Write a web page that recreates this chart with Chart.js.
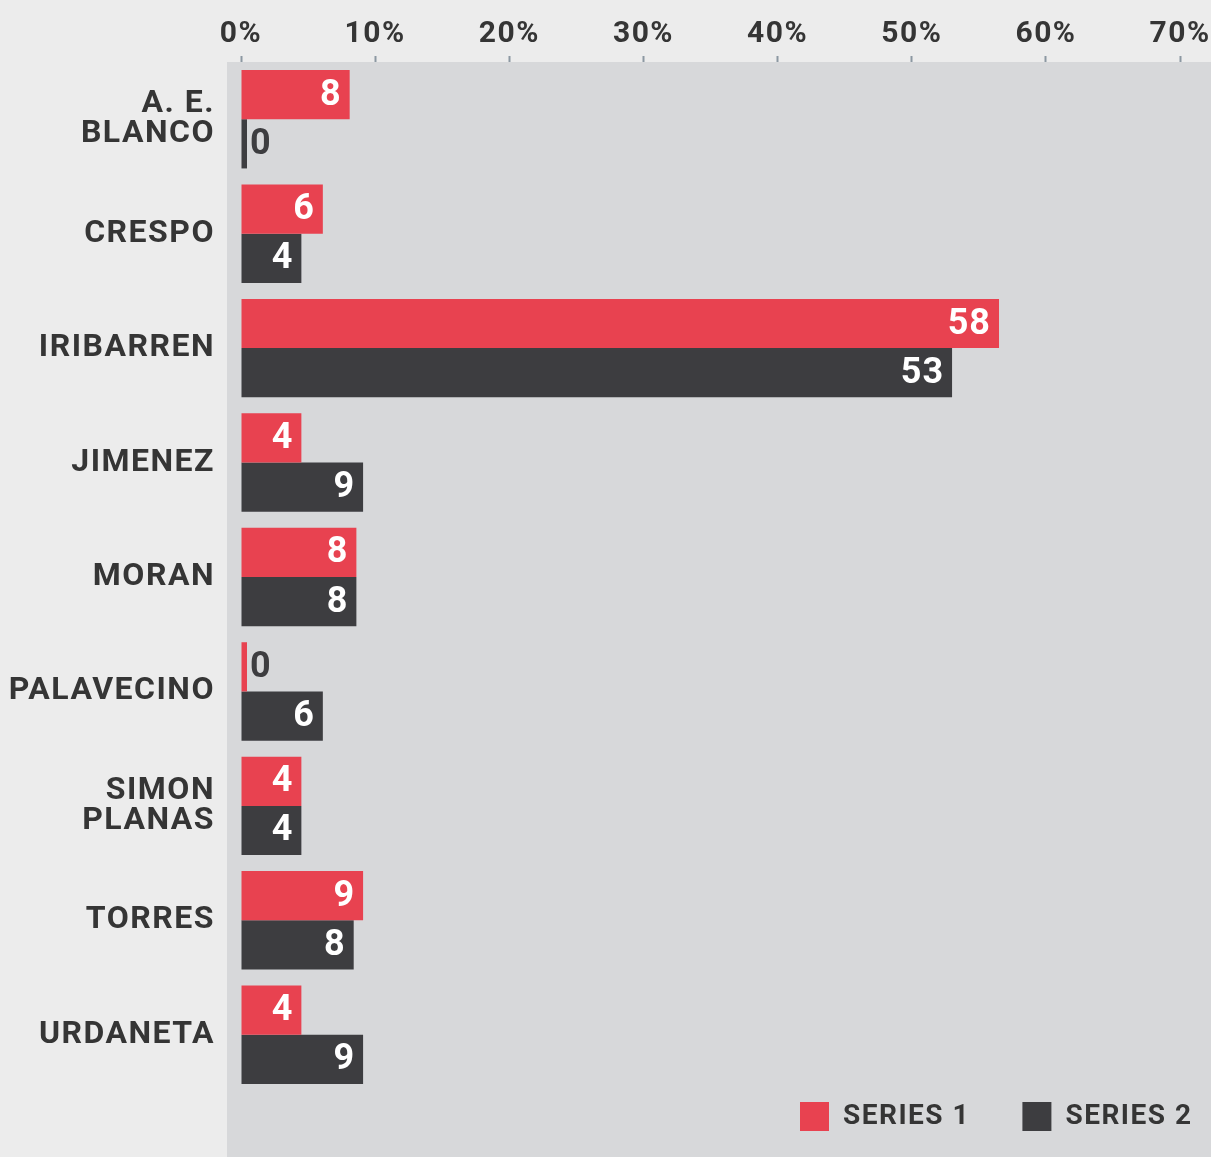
<!DOCTYPE html>
<html>
<head>
<meta charset="utf-8">
<script src="https://cdn.jsdelivr.net/npm/chart.js@4/dist/chart.umd.min.js"></script>
<style>
  html, body { margin: 0; padding: 0; background: #ececec; }
  #c { display: block; }
</style>
</head>
<body>
<canvas id="c" width="1211" height="1157"></canvas>
<script>
// ---- data ----
const categories = [["A. E.", "BLANCO"], "CRESPO", "IRIBARREN", "JIMENEZ", "MORAN", "PALAVECINO", ["SIMON", "PLANAS"], "TORRES", "URDANETA"];
const seriesNames = ["SERIES 1", "SERIES 2"];
const series1 = [8.1, 6.1, 56.5, 4.5, 8.6, 0, 4.5, 9.1, 4.5];
const series2 = [0, 4.5, 53.0, 9.1, 8.6, 6.1, 4.5, 8.4, 9.1];
const series1Labels = ["8", "6", "58", "4", "8", "0", "4", "9", "4"];
const series2Labels = ["0", "4", "53", "9", "8", "6", "4", "8", "9"];
const xTickValues = [0, 10, 20, 30, 40, 50, 60, 70];

const RED = "#e84250";
const DARK = "#3d3d40";
const TEXT = "#353535";
const PANEL = "#d7d8da";
const FONT = "Roboto, 'Open Sans', sans-serif";

const spacingPlugin = {
  id: "spacing",
  beforeUpdate(chart) { chart.ctx.letterSpacing = "1.5px"; },
  beforeDraw(chart) { chart.ctx.letterSpacing = "1.5px"; }
};

const panelPlugin = {
  id: "panel",
  beforeDraw(chart) {
    const { ctx, chartArea, width, height } = chart;
    ctx.save();
    ctx.fillStyle = PANEL;
    const x0 = chartArea.left - 14;
    ctx.fillRect(x0, chartArea.top, width - x0, height - chartArea.top);
    ctx.restore();
  }
};

const valueLabelPlugin = {
  id: "valueLabels",
  afterDatasetsDraw(chart) {
    const { ctx } = chart;
    const labelSets = [series1Labels, series2Labels];
    ctx.save();
    ctx.letterSpacing = "1px";
    ctx.font = "bold 36px " + FONT;
    ctx.textBaseline = "middle";
    chart.data.datasets.forEach((ds, di) => {
      const meta = chart.getDatasetMeta(di);
      meta.data.forEach((bar, i) => {
        const txt = labelSets[di][i];
        const v = ds.data[i];
        if (v === 0) {
          ctx.fillStyle = DARK;
          ctx.textAlign = "left";
          ctx.fillText(txt, bar.x + 3, bar.y + 1);
        } else {
          ctx.fillStyle = "#ffffff";
          ctx.textAlign = "right";
          ctx.fillText(txt, bar.x - 8, bar.y + 1);
        }
      });
    });
    ctx.restore();
  }
};

new Chart(document.getElementById("c"), {
  type: "bar",
  data: {
    labels: categories,
    datasets: [
      { label: seriesNames[0], data: series1, backgroundColor: RED, borderWidth: 0, minBarLength: 6 },
      { label: seriesNames[1], data: series2, backgroundColor: DARK, borderWidth: 0, minBarLength: 6 }
    ]
  },
  options: {
    indexAxis: "y",
    responsive: false,
    animation: false,
    devicePixelRatio: 1,
    layout: { padding: { left: 0, right: 0, top: 0, bottom: 16 } },
    datasets: { bar: { categoryPercentage: 0.86, barPercentage: 1.0 } },
    scales: {
      x: {
        position: "top",
        min: 0,
        max: 72.3,
        afterBuildTicks(scale) { scale.ticks = xTickValues.map(v => ({ value: v })); },
        afterFit(scale) { scale.height = 62; scale.paddingLeft = 0; scale.paddingRight = 0; },
        ticks: {
          includeBounds: false,
          stepSize: 10,
          padding: 4,
          color: TEXT,
          font: { family: FONT, weight: "bold", size: 30 },
          callback: v => v + "%",
          maxRotation: 0
        },
        grid: { display: true, drawOnChartArea: false, drawTicks: true, tickLength: 6, tickWidth: 2, tickColor: "#8c98a2" },
        border: { display: false }
      },
      y: {
        afterFit(scale) { scale.width = 241; scale.paddingTop = 0; scale.paddingBottom = 0; },
        ticks: {
          padding: 26,
          color: TEXT,
          font: { family: FONT, weight: "bold", size: 32, lineHeight: 0.93 }
        },
        grid: { display: false, drawTicks: false },
        border: { display: false }
      }
    },
    plugins: {
      legend: {
        position: "bottom",
        align: "end",
        labels: {
          boxWidth: 29,
          boxHeight: 29,
          padding: 10,
          color: TEXT,
          font: { family: FONT, weight: "bold", size: 28 },
          generateLabels(chart) {
            const items = Chart.defaults.plugins.legend.labels.generateLabels(chart);
            return items.map((it, i) => Object.assign(it, { text: it.text + (i === 0 ? "     " : " "), lineWidth: 0 }));
          }
        }
      },
      tooltip: { enabled: false }
    }
  },
  plugins: [spacingPlugin, panelPlugin, valueLabelPlugin]
});
</script>
</body>
</html>
